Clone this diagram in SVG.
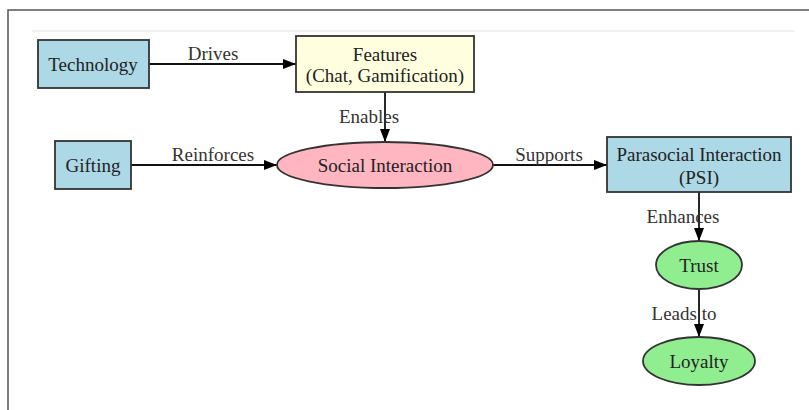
<svg xmlns="http://www.w3.org/2000/svg" width="809" height="410" viewBox="0 0 809 410">
<defs>
<style>
text{font-family:"Liberation Serif","Times New Roman","DejaVu Serif",serif;font-size:19px;fill:#222;text-anchor:middle;dominant-baseline:central}
.lbl{fill:#333}
.box{stroke:#333;stroke-width:1.8}
.edge{stroke:#111;stroke-width:1.8;fill:none}
</style>
<marker id="ah" markerWidth="13" markerHeight="10" refX="13" refY="5" orient="auto" markerUnits="userSpaceOnUse">
<path d="M0,0 L13,5 L0,10 Z" fill="#000"/>
</marker>
</defs>
<rect x="0" y="0" width="809" height="410" fill="#fff"/>
<path d="M8,410 V10 H809" fill="none" stroke="#555" stroke-width="1.5"/>
<line x1="32" y1="31" x2="795" y2="31" stroke="#eee" stroke-width="1.5"/>
<g id="connectors">
<line class="edge" x1="149" y1="64" x2="296" y2="64" marker-end="url(#ah)"/>
<text class="lbl" x="213" y="53">Drives</text>
<line class="edge" x1="385" y1="92" x2="385" y2="142" marker-end="url(#ah)"/>
<text class="lbl" x="369" y="116">Enables</text>
<line class="edge" x1="131" y1="165" x2="277" y2="165" marker-end="url(#ah)"/>
<text class="lbl" x="213" y="154">Reinforces</text>
<line class="edge" x1="493" y1="165" x2="607" y2="165" marker-end="url(#ah)"/>
<text class="lbl" x="549" y="154">Supports</text>
<line class="edge" x1="699" y1="192" x2="699" y2="241" marker-end="url(#ah)"/>
<text class="lbl" x="683" y="216">Enhances</text>
<line class="edge" x1="699" y1="289" x2="699" y2="337" marker-end="url(#ah)"/>
<text class="lbl" x="684" y="313">Leads to</text>
</g>
<g id="technology">
<rect class="box" x="38" y="40" width="111" height="48" fill="#ADD8E6"/>
<text x="93" y="64">Technology</text>
</g>
<g id="features">
<rect class="box" x="296" y="36" width="178" height="56" fill="#FFFFE0"/>
<text x="385" y="54">Features</text>
<text x="385" y="75">(Chat, Gamification)</text>
</g>
<g id="gifting">
<rect class="box" x="55" y="141" width="76" height="48" fill="#ADD8E6"/>
<text x="93" y="165">Gifting</text>
</g>
<g id="social">
<ellipse class="box" cx="385" cy="165" rx="108" ry="23" fill="#FFB6C1"/>
<text x="385" y="165">Social Interaction</text>
</g>
<g id="psi">
<rect class="box" x="607" y="137" width="184" height="55" fill="#ADD8E6"/>
<text x="699" y="154">Parasocial Interaction</text>
<text x="699" y="177">(PSI)</text>
</g>
<g id="trust">
<ellipse class="box" cx="699" cy="265" rx="43" ry="24" fill="#90EE90"/>
<text x="699" y="265">Trust</text>
</g>
<g id="loyalty">
<ellipse class="box" cx="699" cy="361" rx="56" ry="24" fill="#90EE90"/>
<text x="699" y="361">Loyalty</text>
</g>
</svg>
